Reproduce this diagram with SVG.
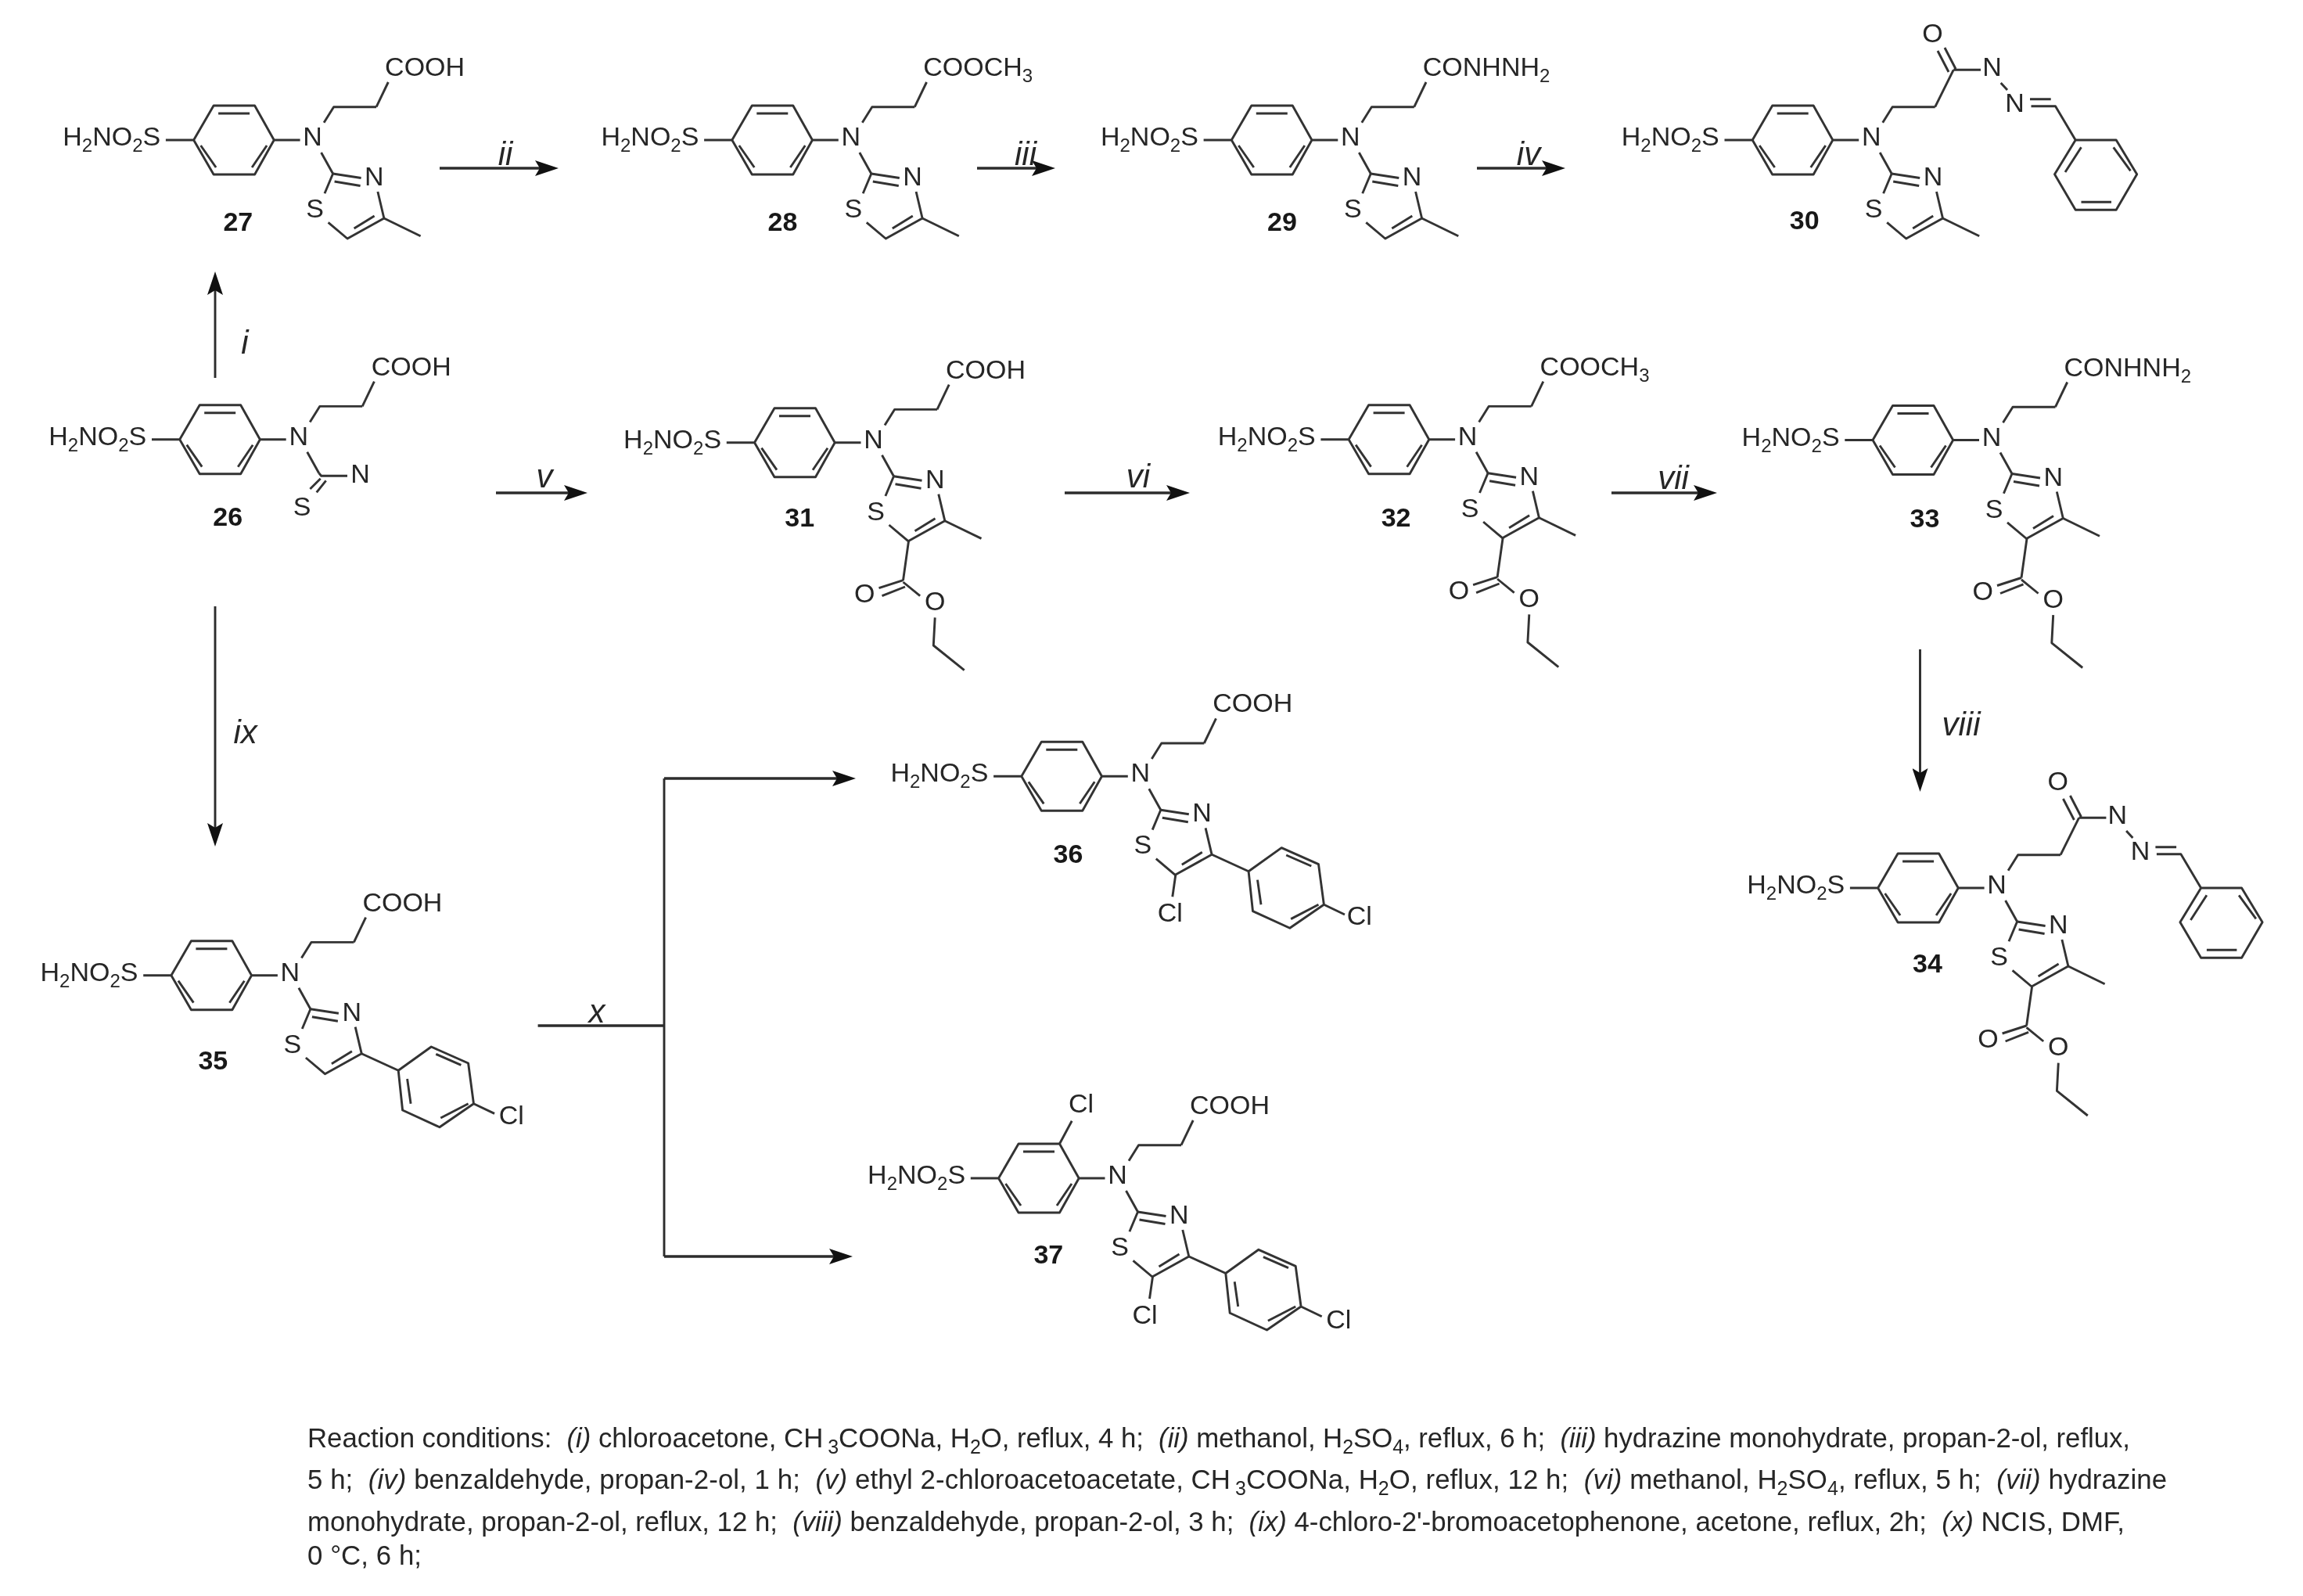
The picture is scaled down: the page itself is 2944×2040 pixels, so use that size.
<svg xmlns="http://www.w3.org/2000/svg" xmlns:xlink="http://www.w3.org/1999/xlink" width="2944" height="2040" viewBox="0 0 2944 2040">
<style>
text{font-family:"Liberation Sans",Arial,sans-serif;fill:#262626}
.a{font-size:34px}
.m{text-anchor:middle}
.s{font-size:24px}
.n{font-size:34px;font-weight:bold;text-anchor:middle;fill:#181818}
.l{font-size:42px;font-style:italic;text-anchor:middle}
.f{font-size:34.8px}
.f .s{font-size:25px}
.i{font-style:italic}
.b{fill:none;stroke:#333;stroke-width:2.9;stroke-linejoin:round}
.c{fill:none;stroke:#2c2c2c;stroke-width:3.6}
.t{stroke-width:2.9}
</style>
<defs>
<filter id="soft" filterUnits="userSpaceOnUse" x="0" y="0" width="2944" height="2040" color-interpolation-filters="sRGB"><feGaussianBlur stdDeviation="0.5"/></filter>
<marker id="arrow" markerUnits="userSpaceOnUse" markerWidth="30" markerHeight="20" viewBox="0 0 30 20" refX="20" refY="10" orient="auto"><path d="M0,0L30,10L0,20L6,10Z" fill="#111"/></marker>
<path id="core" class="b" d="M-35.7,0H0L25.5,-44H78L102.7,0L78,44H25.5L0,0M31.5,-34H71.5M9,7L28.5,35M93.5,7L74.5,35M102.7,0H136M163,16L178,43M166.5,-22.3L179,-42.3H233.5"/>
<path id="acid" class="b" d="M233.5,-42.3L248.7,-74"/>
<path id="thia" class="b" d="M178,43L214,48.5M180,53L213,58.5M235.3,66L243.3,100L196.5,126L172,105.3M167.4,68.3L178,43M231,97L205,113"/>
<path id="methyl" class="b" d="M243.3,100L290,122.7"/>
<path id="ester" class="b" d="M197,126L190,176M190,176L159,186M192.5,184.3L163,196M190,178.3L211.6,196M230.7,223.7L228.8,259.3L268.2,291"/>
<path id="aryl" class="b" d="M243.3,100L290.3,121.5L332.4,91.3L379.7,112.3L386.6,164L343,194L295.7,172.3L290.3,121.5M338.4,100.7L370.5,114.7M379.7,164L344.4,182.3M301.7,132.3L306.2,164M386.6,164L413.2,176.7"/>
<path id="hydrazone" class="b" d="M233.5,-42.3L257,-89.7M259.8,-91L245.8,-118M250.8,-87L236.8,-114M257,-89.7H291.8M317.5,-73L325.8,-64M354.8,-52.3H381.5M356.3,-43.3H387.3L413,0H465L491.5,43.7L465,89.3H413L386.3,43.7L413,0M399.8,41L420.3,9.3M461.5,9.3L483.3,39.3M420.3,79.3H458.8"/>
</defs>
<rect width="2944" height="2040" fill="#fff"/>
<g id="scheme" filter="url(#soft)">

<g id="connectors">
<path class="c t" d="M275,483V357" marker-end="url(#arrow)"/>
<path class="c" d="M562,215H704" marker-end="url(#arrow)"/>
<path class="c" d="M1249,215H1339" marker-end="url(#arrow)"/>
<path class="c" d="M1888,215H1991" marker-end="url(#arrow)"/>
<path class="c" d="M634,630H741" marker-end="url(#arrow)"/>
<path class="c" d="M1361,630H1511" marker-end="url(#arrow)"/>
<path class="c" d="M2060,630H2185" marker-end="url(#arrow)"/>
<path class="c t" d="M2454.5,830V1002" marker-end="url(#arrow)"/>
<path class="c t" d="M275,775V1072" marker-end="url(#arrow)"/>
<path class="c" d="M687.6,1311H849"/>
<path class="c t" d="M849,995V1606"/>
<path class="c" d="M849,995H1084" marker-end="url(#arrow)"/>
<path class="c" d="M849,1606H1080" marker-end="url(#arrow)"/>
<text class="l" x="313" y="452">i</text>
<text class="l" x="646" y="211">ii</text>
<text class="l" x="1311" y="211">iii</text>
<text class="l" x="1954" y="211">iv</text>
<text class="l" x="696" y="623">v</text>
<text class="l" x="1455" y="623">vi</text>
<text class="l" x="2139" y="625">vii</text>
<text class="l" x="2507" y="940">viii</text>
<text class="l" x="313.6" y="950">ix</text>
<text class="l" x="763" y="1307">x</text>
</g>

<g id="compound-26" transform="translate(229.7,561.7)">
<use href="#core"/><use href="#acid"/>
<path class="b" d="M178,43L181,46.6H214.3M180,50L166.7,63.3M187,52.7L175,67.6"/>
<text class="a" x="-167.4" y="7">H<tspan class="s" dy="8">2</tspan><tspan dy="-8">NO</tspan><tspan class="s" dy="8">2</tspan><tspan dy="-8">S</tspan></text>
<text class="a m" x="152" y="7">N</text>
<text class="a" x="245" y="-82">COOH</text>
<text class="a m" x="230.8" y="55">N</text>
<text class="a m" x="156.3" y="97">S</text>
<text class="n" x="61.6" y="110">26</text>
</g>

<g id="compound-27" transform="translate(247.6,179)">
<use href="#core"/><use href="#acid"/><use href="#thia"/><use href="#methyl"/>
<text class="a" x="-167.4" y="7">H<tspan class="s" dy="8">2</tspan><tspan dy="-8">NO</tspan><tspan class="s" dy="8">2</tspan><tspan dy="-8">S</tspan></text>
<text class="a m" x="152" y="7">N</text>
<text class="a" x="244.5" y="-82">COOH</text>
<text class="a m" x="230.8" y="58">N</text>
<text class="a m" x="155" y="99">S</text>
<text class="n" x="56.7" y="116">27</text>
</g>

<g id="compound-28" transform="translate(935.8,179)">
<use href="#core"/><use href="#acid"/><use href="#thia"/><use href="#methyl"/>
<text class="a" x="-167.4" y="7">H<tspan class="s" dy="8">2</tspan><tspan dy="-8">NO</tspan><tspan class="s" dy="8">2</tspan><tspan dy="-8">S</tspan></text>
<text class="a m" x="152" y="7">N</text>
<text class="a" x="244.5" y="-82">COOCH<tspan class="s" dy="8">3</tspan></text>
<text class="a m" x="230.8" y="58">N</text>
<text class="a m" x="155" y="99">S</text>
<text class="n" x="64.7" y="116">28</text>
</g>

<g id="compound-29" transform="translate(1574.3,179)">
<use href="#core"/><use href="#acid"/><use href="#thia"/><use href="#methyl"/>
<text class="a" x="-167.4" y="7">H<tspan class="s" dy="8">2</tspan><tspan dy="-8">NO</tspan><tspan class="s" dy="8">2</tspan><tspan dy="-8">S</tspan></text>
<text class="a m" x="152" y="7">N</text>
<text class="a" x="244.5" y="-82">CONHNH<tspan class="s" dy="8">2</tspan></text>
<text class="a m" x="230.8" y="58">N</text>
<text class="a m" x="155" y="99">S</text>
<text class="n" x="64.7" y="116">29</text>
</g>

<g id="compound-30" transform="translate(2240.2,179)">
<use href="#core"/><use href="#hydrazone"/><use href="#thia"/><use href="#methyl"/>
<text class="a" x="-167.4" y="7">H<tspan class="s" dy="8">2</tspan><tspan dy="-8">NO</tspan><tspan class="s" dy="8">2</tspan><tspan dy="-8">S</tspan></text>
<text class="a m" x="152" y="7">N</text>
<text class="a m" x="230.2" y="-125">O</text>
<text class="a m" x="306.3" y="-81.7">N</text>
<text class="a m" x="335.4" y="-35.7">N</text>
<text class="a m" x="230.8" y="58">N</text>
<text class="a m" x="155" y="99">S</text>
<text class="n" x="66.6" y="114">30</text>
</g>

<g id="compound-31" transform="translate(964.5,565.7)">
<use href="#core"/><use href="#acid"/><use href="#thia"/><use href="#methyl"/><use href="#ester"/>
<text class="a" x="-167.4" y="7">H<tspan class="s" dy="8">2</tspan><tspan dy="-8">NO</tspan><tspan class="s" dy="8">2</tspan><tspan dy="-8">S</tspan></text>
<text class="a m" x="152" y="7">N</text>
<text class="a" x="244.5" y="-82">COOH</text>
<text class="a m" x="230.8" y="58">N</text>
<text class="a m" x="155" y="99">S</text>
<text class="a m" x="140.8" y="204.3">O</text>
<text class="a m" x="230.7" y="214.3">O</text>
<text class="n" x="57.7" y="107.7">31</text>
</g>

<g id="compound-32" transform="translate(1724.1,561.7)">
<use href="#core"/><use href="#acid"/><use href="#thia"/><use href="#methyl"/><use href="#ester"/>
<text class="a" x="-167.4" y="7">H<tspan class="s" dy="8">2</tspan><tspan dy="-8">NO</tspan><tspan class="s" dy="8">2</tspan><tspan dy="-8">S</tspan></text>
<text class="a m" x="152" y="7">N</text>
<text class="a" x="244.5" y="-82">COOCH<tspan class="s" dy="8">3</tspan></text>
<text class="a m" x="230.8" y="58">N</text>
<text class="a m" x="155" y="99">S</text>
<text class="a m" x="140.8" y="204.3">O</text>
<text class="a m" x="230.7" y="214.3">O</text>
<text class="n" x="60.5" y="111.6">32</text>
</g>

<g id="compound-33" transform="translate(2394,562.5)">
<use href="#core"/><use href="#acid"/><use href="#thia"/><use href="#methyl"/><use href="#ester"/>
<text class="a" x="-167.4" y="7">H<tspan class="s" dy="8">2</tspan><tspan dy="-8">NO</tspan><tspan class="s" dy="8">2</tspan><tspan dy="-8">S</tspan></text>
<text class="a m" x="152" y="7">N</text>
<text class="a" x="244.5" y="-82">CONHNH<tspan class="s" dy="8">2</tspan></text>
<text class="a m" x="230.8" y="58">N</text>
<text class="a m" x="155" y="99">S</text>
<text class="a m" x="140.8" y="204.3">O</text>
<text class="a m" x="230.7" y="214.3">O</text>
<text class="n" x="66.4" y="111">33</text>
</g>

<g id="compound-34" transform="translate(2400.6,1135)">
<use href="#core"/><use href="#hydrazone"/><use href="#thia"/><use href="#methyl"/><use href="#ester"/>
<text class="a" x="-167.4" y="7">H<tspan class="s" dy="8">2</tspan><tspan dy="-8">NO</tspan><tspan class="s" dy="8">2</tspan><tspan dy="-8">S</tspan></text>
<text class="a m" x="152" y="7">N</text>
<text class="a m" x="230.2" y="-125">O</text>
<text class="a m" x="306.3" y="-81.7">N</text>
<text class="a m" x="335.4" y="-35.7">N</text>
<text class="a m" x="230.8" y="58">N</text>
<text class="a m" x="155" y="99">S</text>
<text class="a m" x="140.8" y="204.3">O</text>
<text class="a m" x="230.7" y="214.3">O</text>
<text class="n" x="63.4" y="108.3">34</text>
</g>

<g id="compound-35" transform="translate(218.9,1246.7)">
<use href="#core"/><use href="#acid"/><use href="#thia"/><use href="#aryl"/>
<text class="a" x="-167.4" y="7">H<tspan class="s" dy="8">2</tspan><tspan dy="-8">NO</tspan><tspan class="s" dy="8">2</tspan><tspan dy="-8">S</tspan></text>
<text class="a m" x="152" y="7">N</text>
<text class="a" x="244.5" y="-82">COOH</text>
<text class="a m" x="230.8" y="58">N</text>
<text class="a m" x="155" y="99">S</text>
<text class="a m" x="434.8" y="190">Cl</text>
<text class="n" x="53.4" y="120">35</text>
</g>

<g id="compound-36" transform="translate(1305.8,992.3)">
<use href="#core"/><use href="#acid"/><use href="#thia"/><use href="#aryl"/>
<path class="b" d="M197,126L193,154"/>
<text class="a" x="-167.4" y="7">H<tspan class="s" dy="8">2</tspan><tspan dy="-8">NO</tspan><tspan class="s" dy="8">2</tspan><tspan dy="-8">S</tspan></text>
<text class="a m" x="152" y="7">N</text>
<text class="a" x="244.5" y="-82">COOH</text>
<text class="a m" x="230.8" y="58">N</text>
<text class="a m" x="155" y="99">S</text>
<text class="a m" x="190" y="186">Cl</text>
<text class="a m" x="432" y="190">Cl</text>
<text class="n" x="59.7" y="111">36</text>
</g>

<g id="compound-37" transform="translate(1276.5,1506)">
<use href="#core"/><use href="#acid"/><use href="#thia"/><use href="#aryl"/>
<path class="b" d="M197,126L193,154M78,-44L93.7,-73.3"/>
<text class="a" x="-167.4" y="7">H<tspan class="s" dy="8">2</tspan><tspan dy="-8">NO</tspan><tspan class="s" dy="8">2</tspan><tspan dy="-8">S</tspan></text>
<text class="a m" x="152" y="7">N</text>
<text class="a m" x="105.6" y="-83.7">Cl</text>
<text class="a" x="244.5" y="-82">COOH</text>
<text class="a m" x="230.8" y="58">N</text>
<text class="a m" x="155" y="99">S</text>
<text class="a m" x="187" y="186">Cl</text>
<text class="a m" x="434.8" y="192">Cl</text>
<text class="n" x="63.8" y="109">37</text>
</g>

<g id="conditions" class="f">
<text x="393" y="1850" xml:space="preserve" textLength="2330">Reaction conditions:  <tspan class="i">(i)</tspan> chloroacetone, CH<tspan class="s" dy="8" dx="6">3</tspan><tspan dy="-8">COONa, H</tspan><tspan class="s" dy="8">2</tspan><tspan dy="-8">O, reflux, 4 h;  </tspan><tspan class="i">(ii)</tspan> methanol, H<tspan class="s" dy="8">2</tspan><tspan dy="-8">SO</tspan><tspan class="s" dy="8">4</tspan><tspan dy="-8">, reflux, 6 h;  </tspan><tspan class="i">(iii)</tspan> hydrazine monohydrate, propan-2-ol, reflux,</text>
<text x="393" y="1903" xml:space="preserve" textLength="2377">5 h;  <tspan class="i">(iv)</tspan> benzaldehyde, propan-2-ol, 1 h;  <tspan class="i">(v)</tspan> ethyl 2-chloroacetoacetate, CH<tspan class="s" dy="8" dx="6">3</tspan><tspan dy="-8">COONa, H</tspan><tspan class="s" dy="8">2</tspan><tspan dy="-8">O, reflux, 12 h;  </tspan><tspan class="i">(vi)</tspan> methanol, H<tspan class="s" dy="8">2</tspan><tspan dy="-8">SO</tspan><tspan class="s" dy="8">4</tspan><tspan dy="-8">, reflux, 5 h;  </tspan><tspan class="i">(vii)</tspan> hydrazine</text>
<text x="393" y="1957" xml:space="preserve" textLength="2323">monohydrate, propan-2-ol, reflux, 12 h;  <tspan class="i">(viii)</tspan> benzaldehyde, propan-2-ol, 3 h;  <tspan class="i">(ix)</tspan> 4-chloro-2'-bromoacetophenone, acetone, reflux, 2h;  <tspan class="i">(x)</tspan> NCIS, DMF,</text>
<text x="393" y="2000" xml:space="preserve" textLength="146">0 °C, 6 h;</text>
</g>
</g>
</svg>
